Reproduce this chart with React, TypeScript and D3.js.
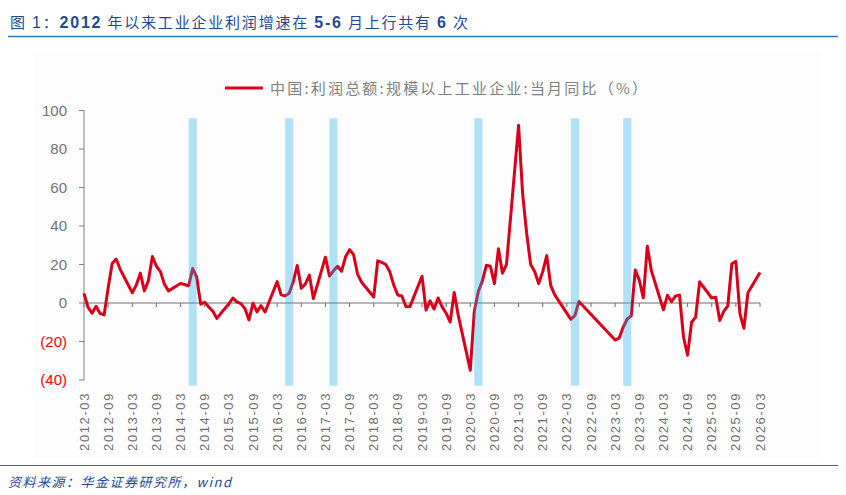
import React, { useEffect, useRef } from "react";
import * as d3 from "d3";

// 当月同比 (%), Jan..Dec per year; Jan/Feb not published separately
const y2012 = [null, null, 5.0, -2.2, -5.3, -1.7, -5.4, -6.2, 7.8, 20.5, 22.8, 17.5];
const y2013 = [null, null, 5.3, 9.3, 15.5, 6.3, 11.6, 24.2, 19.1, 16.3, 9.7, 6.3];
const y2014 = [null, null, 10.1, 9.6, 8.9, 17.9, 13.5, -0.6, 0.4, -2.1, -4.2, -8.0];
const y2015 = [null, null, -0.4, 2.6, 0.6, -0.3, -2.9, -8.8, -0.1, -4.6, -1.4, -4.7];
const y2016 = [null, null, 11.1, 4.2, 3.7, 5.1, 11.0, 19.5, 7.7, 9.8, 14.5, 2.3];
const y2017 = [null, null, 23.8, 14.0, 16.7, 19.1, 16.5, 24.0, 27.7, 25.1, 14.9, 10.8];
const y2018 = [null, null, 3.1, 21.9, 21.1, 20.0, 16.2, 9.2, 4.1, 3.6, -1.8, -1.9];
const y2019 = [null, null, 13.9, -3.7, 1.1, -3.1, 2.6, -2.0, -5.3, -9.9, 5.4, -6.3];
const y2020 = [null, null, -34.9, -4.3, 6.0, 11.5, 19.6, 19.1, 10.1, 28.2, 15.5, 20.1];
const y2021 = [null, null, 92.3, 57.0, 36.4, 20.0, 16.4, 10.1, 16.3, 24.6, 9.0, 4.2];
const y2022 = [null, null, null, -8.5, -6.5, 0.8, null, null, null, null, null, null];
const y2023 = [null, null, -19.2, -18.2, -12.6, -8.3, -6.7, 17.2, 11.9, 2.7, 29.5, 16.8];
const y2024 = [null, null, -3.5, 4.0, 0.7, 3.6, 4.1, -17.8, -27.1, -10.0, -7.3, 11.0];
const y2025 = [null, null, 2.6, 3.0, -9.1, -4.3, -1.5, 20.4, 21.6, -5.5, -13.1, 5.3];
const y2026 = [null, null, 15.8];

const years = [2012, 2013, 2014, 2015, 2016, 2017, 2018, 2019, 2020, 2021, 2022, 2023, 2024, 2025, 2026];
const yearValues = [y2012, y2013, y2014, y2015, y2016, y2017, y2018, y2019, y2020, y2021, y2022, y2023, y2024, y2025, y2026];

// 5-6月上行的区间（起始月份，跨两个月）
const highlightStarts = ["2014-05", "2016-05", "2017-04", "2020-04", "2022-04", "2023-05"];
const highlightTop = 96;
const highlightBottom = -43;

const xTickLabels = [
  "2012-03", "2012-09", "2013-03", "2013-09", "2014-03", "2014-09", "2015-03", "2015-09",
  "2016-03", "2016-09", "2017-03", "2017-09", "2018-03", "2018-09", "2019-03", "2019-09",
  "2020-03", "2020-09", "2021-03", "2021-09", "2022-03", "2022-09", "2023-03", "2023-09",
  "2024-03", "2024-09", "2025-03", "2025-09", "2026-03",
];
const yTicks = [100, 80, 60, 40, 20, 0, -20, -40];

const title = "图 1：2012 年以来工业企业利润增速在 5-6 月上行共有 6 次";
const legendLabel = "中国:利润总额:规模以上工业企业:当月同比（%）";
const source = "资料来源：华金证券研究所，wind";

const CJK = "'Noto Sans CJK SC', 'Liberation Sans', sans-serif";
const LATIN = "'Liberation Sans', Arial, sans-serif";

// "2014-05" -> months since 2012-03
const monthIndex = (s: string) => {
  const [yy, mm] = s.split("-").map(Number);
  return (yy - 2012) * 12 + (mm - 3);
};

const App: React.FC = () => {
  const ref = useRef<SVGSVGElement | null>(null);

  useEffect(() => {
    if (ref.current) drawChart();
  }, []);

  const drawChart = () => {
    const width = 846;
    const height = 495;
    const svg = d3.select(ref.current).attr("width", width).attr("height", height);
    svg.selectAll("*").remove();

    const points: { m: number; v: number }[] = [];
    years.forEach((yr, i) => {
      yearValues[i].forEach((v, k) => {
        if (v !== null) points.push({ m: (yr - 2012) * 12 + k - 2, v: v as number });
      });
    });

    const x = d3.scaleLinear().domain([0, 168]).range([84, 760]);
    const y = d3.scaleLinear().domain([-40, 100]).range([380, 110.5]);

    // 图表底板
    svg.append("rect").attr("x", 33).attr("y", 52).attr("width", 787).attr("height", 406).attr("fill", "#fdfdfd");

    // 标题
    const t = svg.append("text").attr("x", 10).attr("y", 28).attr("fill", "#1f4a93")
      .style("font-size", "15px").style("letter-spacing", "1.8px").style("font-family", CJK);
    title.split(/(\d[\d-]*)/).forEach((part) => {
      if (!part) return;
      const isNum = /^\d/.test(part);
      t.append("tspan").text(part)
        .style("font-family", isNum ? LATIN : CJK)
        .style("font-weight", isNum && part !== "1" ? "bold" : "normal")
        .style("font-size", isNum ? "16px" : "15px");
    });
    svg.append("line").attr("x1", 8).attr("x2", 838).attr("y1", 36.5).attr("y2", 36.5)
      .attr("stroke", "#2a78c2").attr("stroke-width", 1.5);

    // 图例
    svg.append("line").attr("x1", 225).attr("x2", 263).attr("y1", 88).attr("y2", 88)
      .attr("stroke", "#d9001b").attr("stroke-width", 3);
    svg.append("text").attr("x", 270).attr("y", 94).attr("fill", "#808080")
      .style("font-size", "15px").style("letter-spacing", "2.2px").style("font-family", CJK)
      .text(legendLabel);

    // y 轴
    svg.append("line").attr("x1", x(0)).attr("x2", x(0)).attr("y1", y(100)).attr("y2", y(-40))
      .attr("stroke", "#808080").attr("stroke-width", 1);
    yTicks.forEach((v) => {
      svg.append("line").attr("x1", x(0) - 5).attr("x2", x(0)).attr("y1", y(v)).attr("y2", y(v))
        .attr("stroke", "#808080");
      svg.append("text").attr("x", 67).attr("y", y(v) + 5).attr("text-anchor", "end")
        .attr("fill", v < 0 ? "#ff0000" : "#737373")
        .style("font-size", "15px").style("font-family", LATIN)
        .text(v < 0 ? `(${-v})` : `${v}`);
    });

    // 0 轴及刻度
    svg.append("line").attr("x1", x(0)).attr("x2", x(168)).attr("y1", y(0)).attr("y2", y(0))
      .attr("stroke", "#707070").attr("stroke-width", 1);
    xTickLabels.forEach((lab) => {
      const px = x(monthIndex(lab));
      svg.append("line").attr("x1", px).attr("x2", px).attr("y1", y(0)).attr("y2", y(0) + 4)
        .attr("stroke", "#707070");
      svg.append("text")
        .attr("transform", `translate(${px + 4.5},392) rotate(-90)`)
        .attr("text-anchor", "end").attr("fill", "#6f6f6f")
        .style("font-size", "13px").style("letter-spacing", "1.6px").style("font-family", LATIN)
        .text(lab);
    });

    // 折线
    const line = d3.line<{ m: number; v: number }>().x((d) => x(d.m)).y((d) => y(d.v));
    svg.append("path").datum(points).attr("d", line).attr("fill", "none")
      .attr("stroke", "#d9001b").attr("stroke-width", 3).attr("stroke-linejoin", "round");

    // 高亮区间（半透明，压在折线上）
    highlightStarts.forEach((s) => {
      const m0 = monthIndex(s);
      svg.append("rect").attr("x", x(m0)).attr("width", x(m0 + 2) - x(m0))
        .attr("y", y(highlightTop)).attr("height", y(highlightBottom) - y(highlightTop))
        .attr("fill", "rgb(29,175,232)").attr("fill-opacity", 0.35);
    });

    // 资料来源
    svg.append("line").attr("x1", 0).attr("x2", 838).attr("y1", 465.5).attr("y2", 465.5)
      .attr("stroke", "#2a6db4").attr("stroke-width", 1);
    svg.append("text").attr("x", 8).attr("y", 487).attr("fill", "#1f4a93")
      .style("font-size", "13px").style("letter-spacing", "1.5px").style("font-style", "italic")
      .style("font-family", CJK).text(source);
  };

  return <svg ref={ref} style={{ position: "absolute", left: 0, top: 0 }}></svg>;
};

export default App;
